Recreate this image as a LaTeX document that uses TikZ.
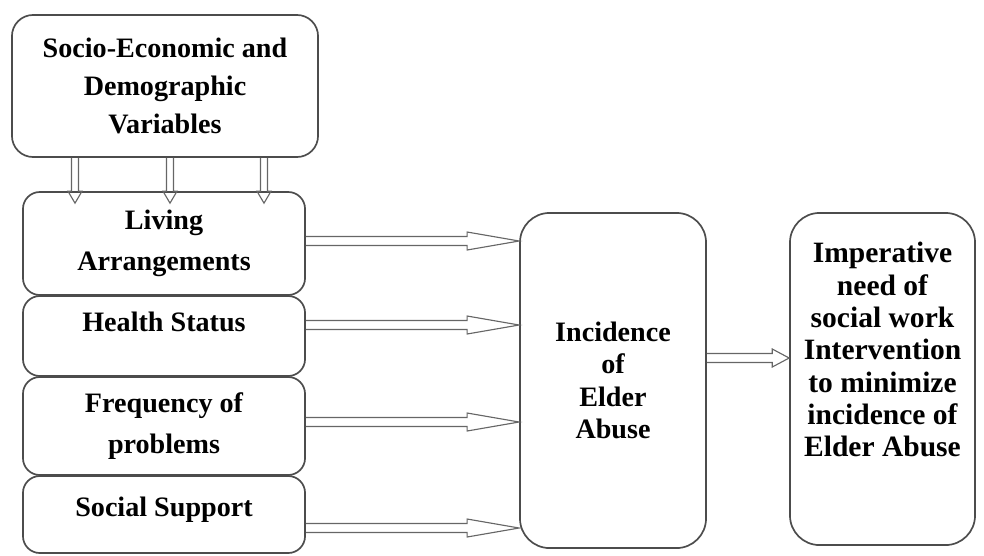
\documentclass[tikz,border=0pt]{standalone}
\usepackage{fontspec}
\setmainfont{Liberation Serif}
\usetikzlibrary{calc}

% hollow double-line arrows (tail, tip)
\newcommand\hollowright[3][37pt]{%
  \draw[hollow] let \p1=(#2), \p2=(#3) in
    (\x1,\y1+3.2pt) -- (\x2-#1,\y1+3.2pt) -- (\x2-#1,\y1+6.4pt) -- (\x2,\y1)
    -- (\x2-#1,\y1-6.4pt) -- (\x2-#1,\y1-3.2pt) -- (\x1,\y1-3.2pt);}
\newcommand\hollowdown[2]{%
  \draw[hollow] let \p1=(#1), \p2=(#2) in
    (\x1+2.5pt,\y1) -- (\x1+2.5pt,\y2+8.5pt) -- (\x1+5pt,\y2+8.5pt) -- (\x1,\y2)
    -- (\x1-5pt,\y2+8.5pt) -- (\x1-2.5pt,\y2+8.5pt) -- (\x1-2.5pt,\y1);}

\begin{document}
\begin{tikzpicture}[
    x=0.025cm, y=-0.025cm,
    box/.style={rectangle, draw=black!70, line width=1.2pt, rounded corners=12pt, align=center, inner sep=2pt, font=\bfseries\fontsize{20}{29}\selectfont},
    bigbox/.style={box, rounded corners=21pt, font=\bfseries\fontsize{20}{23}\selectfont},
    hollow/.style={draw=black!60, line width=0.8pt, line join=miter}
]
\useasboundingbox (0,0) rectangle (984,555);

% Top: background variables
\node[box, minimum width=7.65cm, minimum height=3.55cm, rounded corners=15pt, font=\bfseries\fontsize{20}{27}\selectfont] (socio) at (165,86) {Socio-Economic and\\Demographic\\Variables};

% Left column: factors
\node[box, minimum width=7.05cm, minimum height=2.575cm] (living) at (164,243.5) {Living\\Arrangements};
\node[box, minimum width=7.05cm, minimum height=2.0cm, text depth=20pt] (health) at (164,336) {Health Status};
\node[box, minimum width=7.05cm, minimum height=2.45cm] (freq) at (164,426) {Frequency of\\problems};
\node[box, minimum width=7.05cm, minimum height=1.925cm, text depth=11pt] (social) at (164,514.5) {Social Support};

% Middle: outcome
\node[bigbox, minimum width=4.65cm, minimum height=8.375cm] (inc) at (613,380.5) {Incidence\\of\\Elder\\Abuse};

% Right: need for intervention
\node[bigbox, minimum width=4.625cm, minimum height=8.3cm, text depth=42pt, font=\bfseries\fontsize{21}{23}\selectfont] (imper) at (882.5,379) {Imperative\\need of\\social work\\Intervention\\to minimize\\incidence of\\Elder Abuse};

% Connect variables to factors
\hollowdown{$(socio.south)+(-90,0)$}{$(living.north)+(-89,12)$}
\hollowdown{$(socio.south)+(5,0)$}{$(living.north)+(6,12)$}
\hollowdown{$(socio.south)+(99,0)$}{$(living.north)+(100,12)$}

% Factors to outcome
\hollowright{$(living.east)+(0,-2.5)$}{inc.west}
\hollowright{$(health.east)+(0,-11)$}{inc.west}
\hollowright{$(freq.east)+(0,-4)$}{inc.west}
\hollowright{$(social.east)+(0,13.5)$}{inc.west}

\hollowright[12pt]{$(inc.east)+(0,-22.5)$}{imper.west}

\end{tikzpicture}
\end{document}
